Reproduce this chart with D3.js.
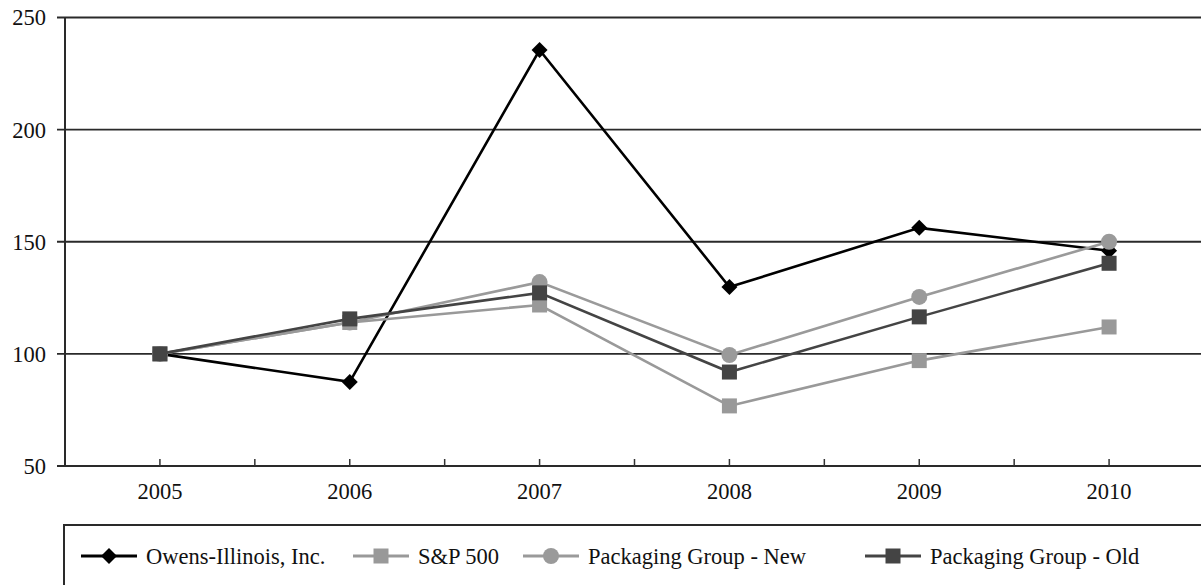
<!DOCTYPE html>
<html>
<head>
<meta charset="utf-8">
<script src="https://cdn.jsdelivr.net/npm/d3@7"></script>
<style>
body{margin:0;background:#fff;}
text{font-family:"Liberation Serif","Times New Roman",serif;}
</style>
</head>
<body>
<svg width="1201" height="585"></svg>
<script>
const years = ['2005','2006','2007','2008','2009','2010'];
const owens = [100, 87.5, 235.5, 129.8, 156.2, 146];
const sp500 = [100, 114, 121.8, 76.8, 97, 112];
const pkgNew = [100, 114, 132, 99.5, 125.4, 150];
const pkgOld = [100, 115.6, 127.2, 91.9, 116.5, 140.4];
const yTicks = [50, 100, 150, 200, 250];

const series = [
	{name:'Owens-Illinois, Inc.', values:owens, color:'#000', marker:'diamond'},
	{name:'S&P 500', values:sp500, color:'#999', marker:'square'},
	{name:'Packaging Group - New', values:pkgNew, color:'#9a9a9a', marker:'circle'},
	{name:'Packaging Group - Old', values:pkgOld, color:'#444', marker:'square'}
];

const svg = d3.select('svg');
const width = +svg.attr('width');
const height = +svg.attr('height');
const fontSize = 22.5;

const plot = {left:65, right:1204, top:17.5, bottom:466};

const x = d3.scaleBand().domain(years).range([plot.left, plot.right]).padding(0);
const cx = d => x(d) + x.bandwidth()/2;
const y = d3.scaleLinear().domain([50, 250]).range([plot.bottom, plot.top]);

// gridlines
svg.append('g').selectAll('line').data(yTicks).enter().append('line')
	.attr('x1', plot.left - 8).attr('x2', width)
	.attr('y1', d => y(d)).attr('y2', d => y(d))
	.attr('stroke', '#2a2a2a').attr('stroke-width', 1.8);

// y labels
svg.append('g').selectAll('text').data(yTicks).enter().append('text')
	.attr('x', 46).attr('y', d => y(d))
	.attr('dy', '0.35em')
	.attr('text-anchor', 'end')
	.attr('font-size', fontSize)
	.attr('fill', '#111')
	.text(d => d);

// y axis line
svg.append('line')
	.attr('x1', plot.left).attr('x2', plot.left).attr('y1', plot.top).attr('y2', plot.bottom)
	.attr('stroke', '#2a2a2a').attr('stroke-width', 2);

// x axis
const xAxis = svg.append('g')
	.attr('transform', `translate(0,${plot.bottom})`)
	.call(d3.axisBottom(x).tickSizeInner(-7).tickSizeOuter(0).tickPadding(17));
xAxis.select('.domain').remove();
xAxis.selectAll('.tick line').attr('stroke', '#333').attr('stroke-width', 1.5);
xAxis.selectAll('.tick text')
	.attr('font-size', fontSize).attr('fill', '#111')
	.style('font-family', '"Liberation Serif", serif');
svg.append('g').selectAll('line').data(years.slice(1)).enter().append('line')
	.attr('x1', d => x(d)).attr('x2', d => x(d))
	.attr('y1', plot.bottom).attr('y2', plot.bottom - 7)
	.attr('stroke', '#333').attr('stroke-width', 1.5);

const line = d3.line().x((d, i) => cx(years[i])).y(d => y(d));

function drawMarker(g, type, color, px, py, s) {
	if (type === 'diamond') {
		g.append('path')
			.attr('d', `M${px},${py - s}L${px + s},${py}L${px},${py + s}L${px - s},${py}Z`)
			.attr('fill', color);
	} else if (type === 'square') {
		g.append('rect')
			.attr('x', px - s).attr('y', py - s).attr('width', 2*s).attr('height', 2*s)
			.attr('fill', color);
	} else {
		g.append('circle').attr('cx', px).attr('cy', py).attr('r', s).attr('fill', color);
	}
}

const markerSize = {diamond:8, square:7.5, circle:8};

series.forEach(s => {
	const g = svg.append('g');
	g.append('path').datum(s.values)
		.attr('d', line)
		.attr('fill', 'none')
		.attr('stroke', s.color)
		.attr('stroke-width', 2.6);
	s.values.forEach((v, i) => drawMarker(g, s.marker, s.color, cx(years[i]), y(v), markerSize[s.marker]));
});

// legend
const lg = svg.append('g');
lg.append('rect')
	.attr('x', 64).attr('y', 525).attr('width', 1200).attr('height', 100)
	.attr('fill', 'none').attr('stroke', '#2a2a2a').attr('stroke-width', 2);

const legendX = [81, 353, 523, 865];
series.forEach((s, i) => {
	const lx = legendX[i], ly = 556;
	lg.append('line')
		.attr('x1', lx).attr('x2', lx + 56).attr('y1', ly).attr('y2', ly)
		.attr('stroke', s.color).attr('stroke-width', 2.8);
	drawMarker(lg, s.marker, s.color, lx + 28, ly, markerSize[s.marker]);
	lg.append('text')
		.attr('x', lx + 65).attr('y', ly).attr('dy', '0.35em')
		.attr('font-size', fontSize).attr('fill', '#111')
		.text(s.name);
});
</script>
</body>
</html>
